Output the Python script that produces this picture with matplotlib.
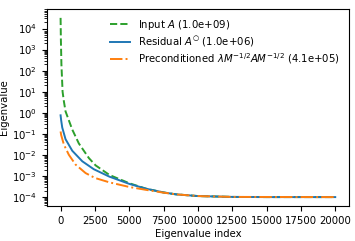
import matplotlib
matplotlib.use("Agg")
import matplotlib.pyplot as plt

plt.rcParams["font.size"] = 7.3

# eigenvalue spectra (index, value)
idx_input = [0, 20, 60, 145, 240, 360, 850, 1330, 2060, 2550, 3560, 5020, 6230,
             7500, 8400, 10000, 12500, 15000, 17500, 20000]
val_input = [3.2e4, 3.2e3, 2.0e2, 1.0e1, 3.5, 1.17, 0.16, 0.035, 7.1e-3, 3.2e-3,
             1.12e-3, 4.5e-4, 2.5e-4, 1.66e-4, 1.35e-4, 1.12e-4, 1.02e-4, 1.0e-4,
             1.0e-4, 1.0e-4]

idx_resid = [0, 40, 120, 360, 850, 1580, 2420, 3560, 5020, 6230, 7500, 8400,
             10000, 12500, 15000, 20000]
val_resid = [0.76, 0.45, 0.2, 0.056, 0.0158, 5.0e-3, 2.1e-3, 9.3e-4, 4.2e-4,
             2.5e-4, 1.66e-4, 1.35e-4, 1.12e-4, 1.02e-4, 1.0e-4, 1.0e-4]

idx_prec = [0, 40, 240, 600, 1090, 1820, 2500, 3560, 5020, 6230, 7500, 8400,
            10000, 12500, 20000]
val_prec = [0.13, 0.089, 0.031, 0.0102, 3.5e-3, 1.38e-3, 8.1e-4, 5.0e-4, 3.0e-4,
            2.2e-4, 1.62e-4, 1.35e-4, 1.12e-4, 1.02e-4, 1.0e-4]

labels = ["Input $A$ (1.0e+09)",
          r"Residual $A^{\bigcirc}$ (1.0e+06)",
          r"Preconditioned $\lambda M^{-1/2} A M^{-1/2}$ (4.1e+05)"]

fig = plt.figure(figsize=(3.55, 2.41), dpi=100)
ax = fig.add_axes([0.132, 0.145, 0.851, 0.818])

ax.plot(idx_input, val_input, "--", color="tab:green", lw=1.4, label=labels[0])
ax.plot(idx_resid, val_resid, "-", color="tab:blue", lw=1.4, label=labels[1])
ax.plot(idx_prec, val_prec, "-.", color="tab:orange", lw=1.4, label=labels[2])

ax.set_yscale("log")
ax.set_xticks([0, 2500, 5000, 7500, 10000, 12500, 15000, 17500, 20000])
ax.set_xlabel("Eigenvalue index", labelpad=2)
ax.set_ylabel("Eigenvalue", labelpad=2)
ax.legend(loc="upper right", frameon=False, labelspacing=0.25)

fig.savefig("out.png", dpi=100)
